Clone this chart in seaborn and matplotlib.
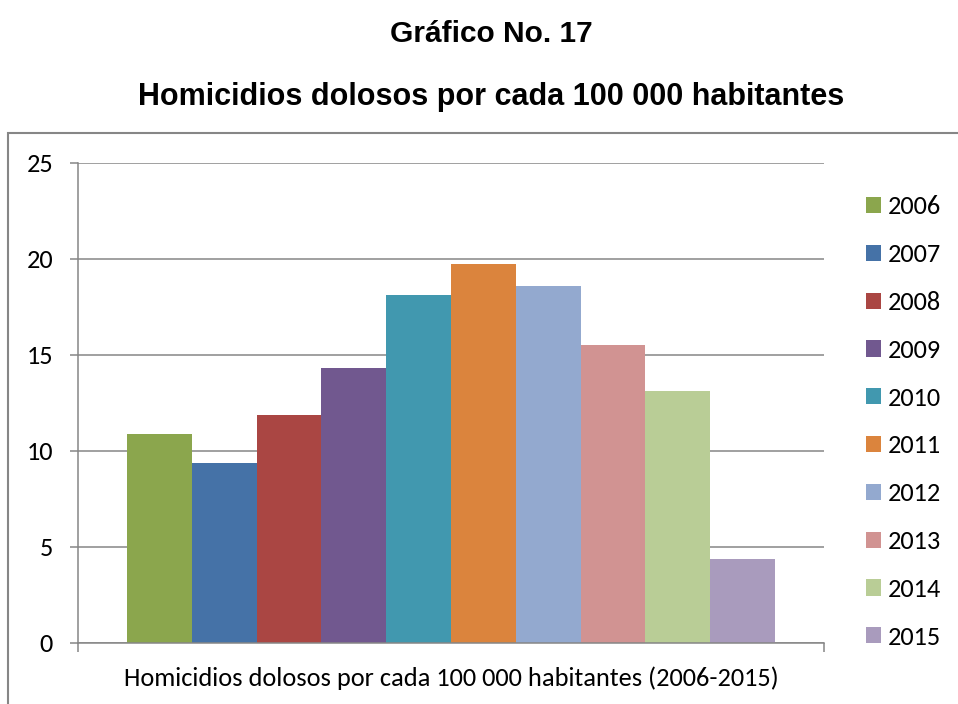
import matplotlib
matplotlib.use("Agg")
import matplotlib.pyplot as plt
from matplotlib import font_manager
from matplotlib.patches import Rectangle
import seaborn as sns
import pandas as pd

# ---- data ----
category = "Homicidios dolosos por cada 100 000 habitantes (2006-2015)"
years = ["2006", "2007", "2008", "2009", "2010", "2011", "2012", "2013", "2014", "2015"]
values = [10.9, 9.4, 11.85, 14.3, 18.15, 19.75, 18.6, 15.5, 13.1, 4.35]
colors = ["#8BA64D", "#4572A7", "#AA4643", "#71588F", "#4198AF",
          "#DB843D", "#93A9CF", "#D19392", "#B9CD96", "#A99BBD"]
yticks = [0, 5, 10, 15, 20, 25]
title1 = "Gráfico No. 17"
title2 = "Homicidios dolosos por cada 100 000 habitantes"

installed = {f.name for f in font_manager.fontManager.ttflist}
body_font = "Carlito" if "Carlito" in installed else "Lato"
title_font = "Liberation Sans Narrow" if "Liberation Sans Narrow" in installed else "Liberation Sans"

sns.set_theme(style="white")
plt.rcParams["font.family"] = [body_font, "DejaVu Sans"]
plt.rcParams["text.color"] = "black"

df = pd.DataFrame({"cat": [category] * len(years), "year": years, "value": values})

W, H = 958, 704
fig = plt.figure(figsize=(W / 100, H / 100), dpi=100)
ax = fig.add_axes([78 / W, 1 - 643 / H, (824 - 78) / W, (643 - 163) / H])

sns.barplot(data=df, x="cat", y="value", hue="year", palette=colors,
            saturation=1, width=0.869, dodge=True, ax=ax, legend=True,
            linewidth=0, edgecolor="none")

grid_c = "#868686"
fs = 19
ax.set_ylim(0, 25)
ax.set_xlim(-0.5, 0.5)
ax.set_yticks(yticks)
ax.set_yticklabels([str(t) for t in yticks], fontsize=fs, color="black")
ax.set_xticks([-0.5, 0.5])
ax.set_xticklabels(["", ""])
ax.set_xlabel("")
ax.set_ylabel("")
ax.yaxis.grid(True, color=grid_c, linewidth=1.1)
ax.set_axisbelow(True)
for s in ["top", "right"]:
    ax.spines[s].set_visible(False)
for s in ["left", "bottom"]:
    ax.spines[s].set_color(grid_c)
    ax.spines[s].set_linewidth(1.1)
ax.tick_params(axis="y", direction="out", length=6, width=1.1, color=grid_c, pad=12, left=True)
ax.tick_params(axis="x", direction="out", length=6.5, width=1.1, color=grid_c, bottom=True)

handles, labels = ax.get_legend_handles_labels()
ax.legend(handles, labels, loc="center left",
          bbox_to_anchor=(866 / W, 1 - 422 / H), bbox_transform=fig.transFigure,
          frameon=False, fontsize=fs, handlelength=0.57, handleheight=0.57,
          handletextpad=0.27, labelspacing=0.94, borderpad=0, borderaxespad=0,
          labelcolor="black")

fig.text(451 / W, 1 - 678 / H, category, ha="center", va="center", fontsize=fs)

fig.text(491 / W, 1 - 42 / H, title1, ha="center", va="baseline",
         fontsize=21.5, fontweight="bold", family=[title_font, "DejaVu Sans"])
fig.text(491 / W, 1 - 105 / H, title2, ha="center", va="baseline",
         fontsize=22, fontweight="bold", family=[title_font, "DejaVu Sans"])

frame = Rectangle((8 / W, -0.1), 1.2, 1 - 133 / H + 0.1, transform=fig.transFigure,
                  fill=False, edgecolor=grid_c, linewidth=1.5, clip_on=False)
fig.add_artist(frame)

fig.savefig("out.png", dpi=100)
